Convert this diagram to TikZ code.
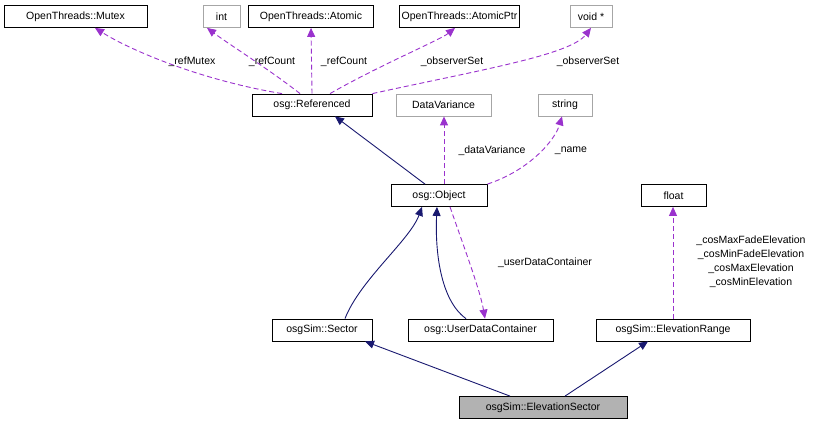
\documentclass[tikz,border=0pt]{standalone}
\usepackage{fontspec}
\setmainfont{Liberation Sans}
\usetikzlibrary{arrows.meta}
\begin{document}
\begin{tikzpicture}[x=1pt,y=-1pt,
  box/.style={draw=black,fill=white,minimum height=22pt,inner sep=2pt,font=\fontsize{10.5}{12}\selectfont,line width=0.8pt},
  gbox/.style={box,draw=gray!70,text=black},
  inh/.style={draw={rgb,255:red,25;green,25;blue,112},line width=0.9pt,-{Triangle[width=8pt,length=9pt]}},
  use/.style={draw={rgb,255:red,154;green,50;blue,205},line width=0.9pt,dash pattern=on 5pt off 3pt,-{Triangle[width=8pt,length=9pt]}},
  lbl/.style={font=\fontsize{10.5}{14}\selectfont,inner sep=0pt,align=center}]
\useasboundingbox (0,0) rectangle (827,425);
\node[box,minimum width=143pt] (mutex) at (75.5,16.5) {OpenThreads::Mutex};
\node[gbox,minimum width=37pt] (int) at (221.5,16.5) {int};
\node[box,minimum width=125pt] (atomic) at (311,16.5) {OpenThreads::Atomic};
\node[box,minimum width=113pt] (aptr) at (459.5,16.5) {OpenThreads::AtomicPtr};
\node[gbox,minimum width=42pt] (void) at (591,16.5) {void *};
\node[box,minimum width=120pt] (ref) at (312,105) {osg::Referenced};
\node[gbox,minimum width=95pt] (dv) at (443.5,105) {DataVariance};
\node[gbox,minimum width=54pt] (str) at (565,105) {string};
\node[box,minimum width=96pt] (obj) at (439,195.5) {osg::Object};
\node[box,minimum width=65pt] (float) at (673.5,195.5) {float};
\node[box,minimum width=100pt] (sec) at (322,330) {osgSim::Sector};
\node[box,minimum width=145pt] (udc) at (480.5,330) {osg::UserDataContainer};
\node[box,minimum width=154pt] (er) at (673,330) {osgSim::ElevationRange};
\node[box,fill=gray!60,minimum width=168pt] (es) at (543,407.5) {osgSim::ElevationSector};

\draw[use] (ref.north-|282,0) .. controls (200,80) and (130,50) .. (mutex.south-|95,0);
\draw[use] (ref.north-|300,0) .. controls (270,70) and (230,45) .. (int.south-|207,0);
\draw[use] (ref.north) -- (atomic.south);
\draw[use] (ref.north-|330,0) .. controls (380,65) and (440,40) .. (aptr.south-|455,0);
\draw[use] (ref.north east) .. controls (480,70) and (570,55) .. (void.south);
\node[lbl] at (192,62) {\_refMutex};
\node[lbl] at (272,62) {\_refCount};
\node[lbl] at (344,62) {\_refCount};
\node[lbl] at (452,62) {\_observerSet};
\node[lbl] at (588,62) {\_observerSet};

\draw[inh] (obj.north-|425,0) -- (ref.south-|335,0);
\draw[use] (obj.north-|444,0) -- (dv.south-|444,0);
\draw[use] (obj.north east) .. controls (530,170) and (555,140) .. (str.south-|562,0);
\node[lbl] at (492,151) {\_dataVariance};
\node[lbl] at (571,151) {\_name};

\draw[inh] (sec.north-|345,0) .. controls (360,280) and (410,240) .. (obj.south-|422,0);
\draw[inh] (udc.north-|466,0) .. controls (440,300) and (435,250) .. (obj.south-|437,0);
\draw[use] (obj.south-|450,0) .. controls (465,250) and (480,290) .. (udc.north-|485,0);
\node[lbl] at (545,263) {\_userDataContainer};

\draw[use] (er.north) -- (float.south-|673,0);
\node[lbl] at (751,261.5) {\_cosMaxFadeElevation\\\_cosMinFadeElevation\\\_cosMaxElevation\\\_cosMinElevation};

\draw[inh] (es.north-|510,0) -- (sec.south-|365,0);
\draw[inh] (es.north-|565,0) -- (er.south-|648,0);
\end{tikzpicture}
\end{document}
